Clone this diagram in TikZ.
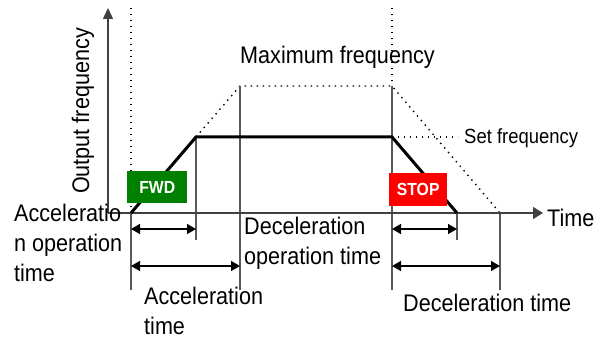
\documentclass[tikz,border=0pt]{standalone}
\usepackage{fontspec}
\setmainfont{Liberation Sans}[FakeStretch=0.9]
\usetikzlibrary{arrows.meta}
\begin{document}
\begin{tikzpicture}[x=1pt,y=-1pt,
  axisline/.style={draw=black!75, line width=1.4pt},
  guide/.style={draw=black!65, line width=1.1pt},
  dotline/.style={draw=black, line width=1.4pt, dash pattern=on 1.4pt off 4.6pt},
  profile/.style={draw=black, line width=3pt, line join=miter},
  span/.style={draw=black, line width=1.4pt, {Triangle[length=9pt,width=10pt]}-{Triangle[length=9pt,width=10pt]}},
  lbl/.style={inner sep=0pt, font=\fontsize{24}{30}\selectfont, align=left},
  small/.style={inner sep=0pt, font=\fontsize{20.5}{25}\selectfont},
  tag/.style={inner sep=0pt, text=white, font=\fontsize{17.5}{20}\selectfont\bfseries}]
\useasboundingbox (0,0) rectangle (603,339);

% key points of the speed profile
\coordinate (O) at (108,213);
\coordinate (ytip) at (108,8);
\coordinate (xtip) at (543,213);
\coordinate (t0) at (131,213);
\coordinate (t0top) at (131,8);
\coordinate (t0low) at (131,290);
\coordinate (a1) at (196,137);
\coordinate (a1low) at (196,240);
\coordinate (m0) at (240,86);
\coordinate (m0low) at (240,290);
\coordinate (m1) at (392,86);
\coordinate (m1top) at (392,8);
\coordinate (d0) at (392,137);
\coordinate (d0low) at (392,290);
\coordinate (d1) at (457,213);
\coordinate (d1low) at (457,240);
\coordinate (m2) at (500,213);
\coordinate (m2low) at (500,290);
\coordinate (sf) at (458,137);

% dotted guides: start line, maximum-frequency ramp, set-frequency level
\draw[dotline] (t0top) -- (t0);
\draw[dotline] (a1) -- (m0) -- (m1) -- (m2);
\draw[dotline] (m1top) -- (m1);
\draw[dotline] (d0) -- (sf);

% solid vertical guides
\draw[guide] (t0) -- (t0low);
\draw[guide] (a1) -- (a1low);
\draw[guide] (m0) -- (m0low);
\draw[guide] (m1) -- (d0low);
\draw[guide] (d1) -- (d1low);
\draw[guide] (m2) -- (m2low);

% axes
\draw[axisline, -{Triangle[length=11pt,width=10pt]}] (O) -- (ytip);
\draw[axisline, -{Triangle[length=10pt,width=12pt]}] (O) -- (xtip);

% output frequency profile
\draw[profile] (t0) -- (a1) -- (d0) -- (d1);

% time spans
\draw[span] (131,229) -- (196,229);
\draw[span] (131,266) -- (240,266);
\draw[span] (392,229) -- (457,229);
\draw[span] (392,266) -- (500,266);

% run / stop commands
\node[fill={rgb,255:red,0;green,128;blue,0}, minimum width=60pt, minimum height=32pt, anchor=north west, tag] (fwd) at (127,171) {FWD};
\node[fill={rgb,255:red,255;green,0;blue,0}, minimum width=58pt, minimum height=33pt, anchor=north west, tag] (stop) at (389,173) {STOP};

% labels
\node[lbl, rotate=90, anchor=base] (ylab) at (89,111) {Output frequency};
\node[lbl, anchor=base west] (maxf) at (240,64) {Maximum frequency};
\node[small, anchor=base west] (setf) at (464,144) {Set frequency};
\node[lbl, anchor=base west] (tlab) at (547,227) {Time};
\node[lbl, anchor=north west] (accop) at (14,204) {Acceleratio\\n operation\\time};
\node[lbl, anchor=north west] (decop) at (244,217) {Deceleration\\operation time};
\node[lbl, anchor=north west] (acct) at (144,287) {Acceleration\\time};
\node[lbl, anchor=base west] (dect) at (403,312) {Deceleration time};
\end{tikzpicture}
\end{document}
